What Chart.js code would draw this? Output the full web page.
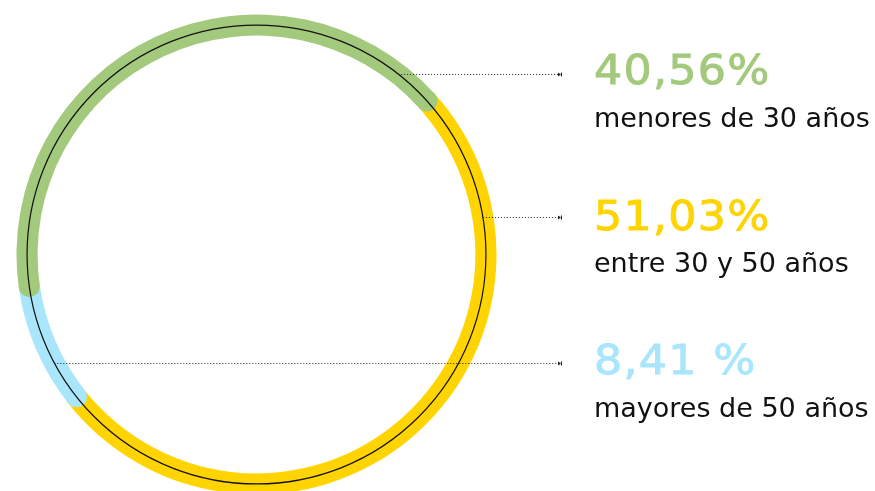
<!DOCTYPE html>
<html>
<head>
<meta charset="utf-8">
<script src="https://cdn.jsdelivr.net/npm/chart.js@4.4.1/dist/chart.umd.min.js"></script>
<style>
  html, body { margin:0; padding:0; background:#ffffff; overflow:hidden; width:875px; height:491px; }
  #wrap { position:absolute; left:0; top:0; width:875px; height:500px; }
  .num { position:absolute; font-family:'DejaVu Sans', sans-serif; font-size:41px; line-height:41px; white-space:nowrap; transform-origin:0 0; letter-spacing:1.2px; -webkit-text-stroke-width:0.9px; }
  .lab { position:absolute; font-family:'DejaVu Sans', sans-serif; font-size:27px; line-height:27px; white-space:nowrap; color:#111; }
</style>
</head>
<body>
<div id="wrap"><canvas id="c" width="875" height="500"></canvas></div>
<script>
// ---- data ----
const categories = ['entre 30 y 50 años', 'mayores de 50 años', 'menores de 30 años'];
const values = [51.03, 8.41, 40.56];
const valueLabels = ['51,03%', '8,41 %', '40,56%'];
const colors = ['#FFD400', '#A9E6FB', '#A3C97C'];

// ---- layout / style (not data) ----
const capLayer = [0, 1, 2];            // which segment's rounded end lies on top
const legendOrder = [2, 0, 1];         // top-to-bottom order of the text blocks
const blockNumTop = [50.3, 196.3, 340.3];
const blockLabTop = [104.2, 249.2, 394.2];
const leaderY = [74, 217, 363];
const leaderSide = [1, 1, -1];
const leaderEndX = 561;

const wrap = document.getElementById('wrap');
legendOrder.forEach((idx, k) => {
  const n = document.createElement('div');
  n.className = 'num';
  n.textContent = valueLabels[idx];
  n.style.color = colors[idx];
  n.style.webkitTextStrokeColor = colors[idx];
  n.style.left = '594px';
  n.style.top = blockNumTop[k] + 'px';
  n.style.transform = 'scaleX(1.08)';
  wrap.appendChild(n);
  const l = document.createElement('div');
  l.className = 'lab';
  l.textContent = categories[idx];
  l.style.left = '594px';
  l.style.top = blockLabTop[k] + 'px';
  wrap.appendChild(l);
});

const decoPlugin = {
  id: 'deco',
  afterDatasetsDraw(chart) {
    const ctx = chart.ctx;
    const arcs = chart.getDatasetMeta(0).data;
    const n = arcs.length;
    const order = arcs.map((a, i) => i).sort((a, b) => capLayer[a] - capLayer[b]);
    let cx = 0, cy = 0, rMid = 0;
    ctx.save();
    order.forEach(i => {
      const a = arcs[i];
      const p = a.getProps(['x', 'y', 'startAngle', 'endAngle', 'innerRadius', 'outerRadius'], true);
      cx = p.x; cy = p.y;
      const rc = (p.innerRadius + p.outerRadius) / 2;
      const cr = (p.outerRadius - p.innerRadius) / 2;
      rMid = rc;
      const prev = (i - 1 + n) % n, next = (i + 1) % n;
      ctx.fillStyle = a.options.backgroundColor;
      const cap = ang => {
        ctx.beginPath();
        ctx.arc(p.x + rc * Math.cos(ang), p.y + rc * Math.sin(ang), cr, 0, Math.PI * 2);
        ctx.fill();
      };
      if (capLayer[i] > capLayer[prev]) cap(p.startAngle);
      if (capLayer[i] > capLayer[next]) cap(p.endAngle);
    });
    // thin black guide circle on the ring's centre line
    const rg = rMid;
    ctx.beginPath();
    ctx.arc(cx, cy, rg, 0, Math.PI * 2);
    ctx.strokeStyle = '#111';
    ctx.lineWidth = 1.2;
    ctx.stroke();
    // dotted leader lines
    leaderY.forEach((y, k) => {
      const dy = y - cy;
      const x0 = cx + leaderSide[k] * Math.sqrt(rg * rg - dy * dy);
      ctx.beginPath();
      ctx.setLineDash([1, 2]);
      ctx.lineWidth = 1;
      ctx.strokeStyle = '#222';
      ctx.moveTo(x0, y + 0.5);
      ctx.lineTo(leaderEndX - 2, y + 0.5);
      ctx.stroke();
      ctx.setLineDash([]);
      ctx.beginPath();
      ctx.fillStyle = '#222';
      ctx.moveTo(leaderEndX - 3, y - 1.5);
      ctx.lineTo(leaderEndX, y + 0.5);
      ctx.lineTo(leaderEndX - 3, y + 2.5);
      ctx.closePath();
      ctx.fill();
      ctx.fillRect(leaderEndX, y - 1.5, 1, 4);
    });
    ctx.restore();
  }
};

new Chart(document.getElementById('c'), {
  type: 'doughnut',
  data: {
    labels: categories,
    datasets: [{
      data: values,
      backgroundColor: colors,
      borderWidth: 0,
      hoverOffset: 0
    }]
  },
  options: {
    responsive: false,
    devicePixelRatio: 1,
    animation: false,
    events: [],
    rotation: 48,
    cutout: '91.2%',
    layout: { padding: { left: 16.5, top: 14.5, right: 378.5, bottom: 5.5 } },
    plugins: { legend: { display: false }, tooltip: { enabled: false } }
  },
  plugins: [decoPlugin]
});
</script>
</body>
</html>
